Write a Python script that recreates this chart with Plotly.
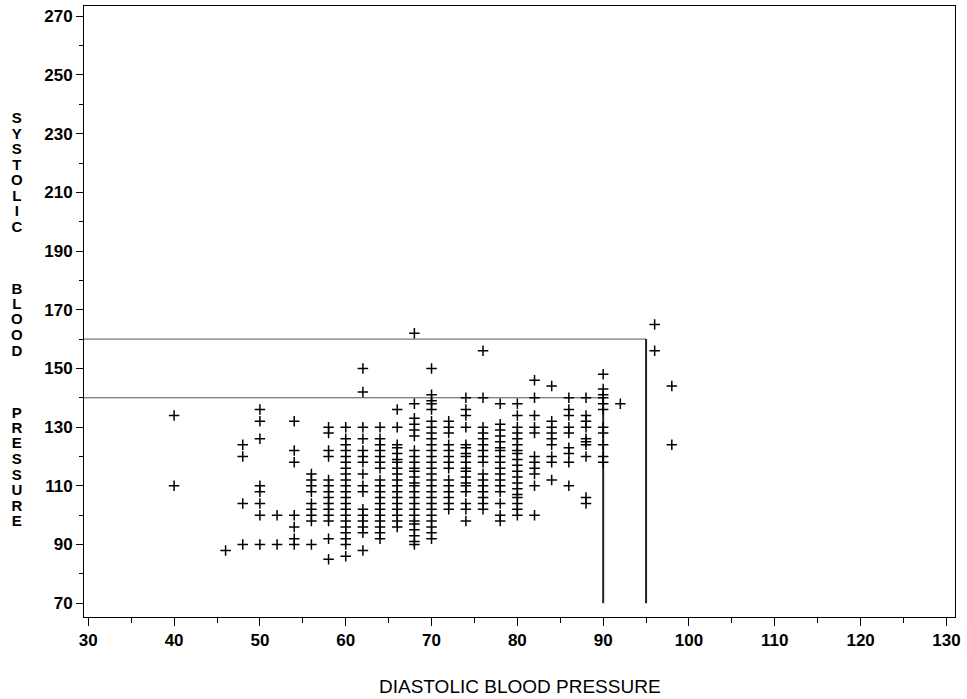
import plotly.graph_objects as go

# ---- data ----
dbp_columns = [40, 46, 48, 50, 52, 54, 56, 58, 60, 62, 64, 66, 68, 70, 72, 74, 76, 78, 80, 82, 84, 86, 88, 90, 92, 96, 98]
sbp_by_column = [
    [134, 110],
    [88],
    [124, 120, 104, 90],
    [136, 132, 126, 110, 108, 104, 100, 90],
    [100, 90],
    [132, 122, 118, 100, 96, 92, 90],
    [114, 112, 110, 108, 104, 102, 100, 98, 90],
    [130, 128, 122, 120, 112, 110, 108, 106, 104, 102, 100, 98, 92, 85],
    [130, 126, 124, 122, 120, 118, 116, 114, 112, 110, 108, 106, 104, 102, 100, 98, 96, 94, 92, 90, 86],
    [150, 142, 130, 126, 122, 120, 118, 114, 110, 108, 102, 100, 98, 96, 94, 88],
    [130, 126, 124, 122, 120, 118, 116, 112, 110, 108, 106, 104, 102, 100, 98, 96, 94, 92],
    [136, 130, 124, 123, 121, 119, 118, 116, 114, 112, 110, 108, 106, 104, 102, 100, 98, 96],
    [162, 138, 133, 131, 129, 127, 122, 120, 118, 116, 115, 113, 111, 110, 108, 106, 104, 102, 100, 98, 97, 95, 93, 91, 90],
    [150, 141, 139, 138, 136, 132, 130, 128, 126, 124, 122, 120, 118, 116, 114, 112, 110, 108, 106, 104, 102, 100, 98, 96, 94, 92],
    [132, 130, 128, 124, 122, 120, 118, 116, 112, 110, 108, 106, 104, 102],
    [140, 136, 134, 130, 124, 123, 121, 120, 118, 116, 115, 113, 111, 110, 108, 104, 102, 98],
    [156, 140, 130, 128, 126, 124, 122, 120, 118, 114, 112, 110, 108, 106, 104, 102],
    [138, 131, 129, 127, 125, 123, 122, 120, 118, 116, 114, 112, 110, 108, 104, 100, 98],
    [138, 134, 130, 128, 126, 124, 122, 121, 119, 117, 115, 113, 111, 109, 107, 106, 104, 102, 100],
    [146, 140, 134, 130, 128, 120, 118, 116, 114, 110, 100],
    [144, 132, 130, 128, 126, 124, 120, 118, 112],
    [140, 136, 134, 130, 128, 123, 121, 118, 110],
    [140, 134, 132, 130, 126, 125, 124, 120, 106, 104],
    [148, 143, 141, 140, 138, 136, 130, 128, 124, 120, 118],
    [138],
    [165, 156],
    [144, 124],
]
sbp_cutoffs = [140, 160]
dbp_cutoffs = [90, 95]
cutoff_floor = 70
x_ticks = list(range(30, 131, 10))
y_ticks = list(range(70, 271, 20))
x_title = "DIASTOLIC BLOOD PRESSURE"
y_title_words = ["SYSTOLIC", "BLOOD", "PRESSURE"]

# ---- build ----
xs, ys = [], []
for d, col in zip(dbp_columns, sbp_by_column):
    xs += [d] * len(col)
    ys += col

X_RANGE = [29.5, 131.0]
Y_RANGE = [65.3, 273.5]

W, H = 967, 699
ML, MR, MT, MB = 84, 12, 6, 82
plot_w = W - ML - MR
plot_h = H - MT - MB

fig = go.Figure()

for s, d in zip(sbp_cutoffs, dbp_cutoffs):
    fig.add_trace(go.Scatter(x=[X_RANGE[0], d], y=[s, s], mode="lines",
                             line=dict(color="#555555", width=1),
                             showlegend=False, hoverinfo="skip"))
    fig.add_trace(go.Scatter(x=[d, d], y=[s, cutoff_floor], mode="lines",
                             line=dict(color="#222222", width=2),
                             showlegend=False, hoverinfo="skip"))

fig.add_trace(go.Scatter(x=xs, y=ys, mode="markers",
                         marker=dict(symbol="cross-thin", size=7.5,
                                     line=dict(color="black", width=1.5)),
                         showlegend=False))

FONT = "Liberation Sans, Arial, Helvetica, sans-serif"
tick_font = dict(family=FONT, size=17, color="black", weight="bold")

# vertical stacked y-axis title: one letter per line, 3 blank lines between words
row_step = 15.5                      # px between letter rows
base_size = row_step / 1.3           # plotly line spacing is 1.3em
rows = []
for wi, word in enumerate(y_title_words):
    if wi > 0:
        rows += ["\u00a0"] * 3
    rows += list(word)
y_title_html = "<br>".join('<span style="font-size:15px">%s</span>' % ch for ch in rows)
first_row_px = 117
center_px = first_row_px + (len(rows) - 1) * row_step / 2

annotations = [
    dict(text=y_title_html, xref="paper", yref="paper",
         x=(17 - ML) / plot_w, y=(H - MB - center_px) / plot_h,
         xanchor="center", yanchor="middle", showarrow=False, align="center",
         font=dict(family=FONT, size=base_size, color="black", weight="bold")),
    dict(text=x_title, xref="paper", yref="paper", x=0.5,
         y=(H - MB - 686) / plot_h,
         xanchor="center", yanchor="middle", showarrow=False,
         font=dict(family=FONT, size=19, color="black")),
]

fig.update_layout(
    width=W, height=H,
    margin=dict(l=ML, r=MR, t=MT, b=MB),
    plot_bgcolor="white", paper_bgcolor="white",
    xaxis=dict(range=X_RANGE, tickvals=x_ticks, ticks="outside", ticklen=8, tickwidth=1,
               tickcolor="black", showline=True, mirror=True, linecolor="black", linewidth=1,
               showgrid=False, zeroline=False, tickfont=tick_font,
               minor=dict(tick0=30, dtick=5, ticks="outside", ticklen=5, tickcolor="black", showgrid=False)),
    yaxis=dict(range=Y_RANGE, tickvals=y_ticks, ticks="outside", ticklen=7, tickwidth=1,
               tickcolor="black", showline=True, mirror=True, linecolor="black", linewidth=1,
               showgrid=False, zeroline=False, tickfont=tick_font,
               minor=dict(tick0=70, dtick=10, ticks="outside", ticklen=4, tickcolor="black", showgrid=False)),
    annotations=annotations,
)

fig.write_html("out.html", config={"displayModeBar": False},
               post_script="document.body.style.margin='0';document.body.style.overflow='hidden';")
